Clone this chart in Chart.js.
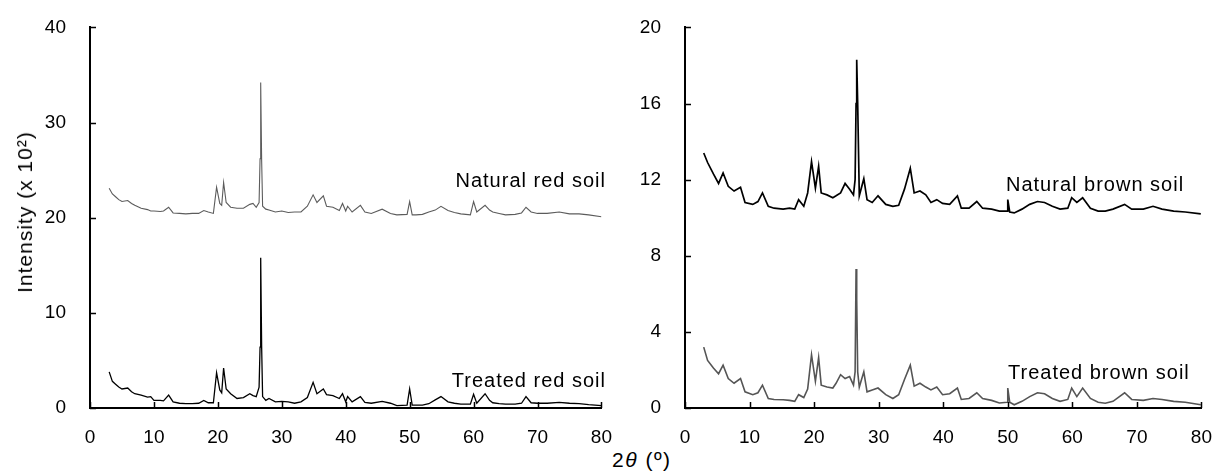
<!DOCTYPE html>
<html>
<head>
<meta charset="utf-8">
<script src="https://cdn.jsdelivr.net/npm/chart.js@4.4.1/dist/chart.umd.min.js"></script>
<style>
  html, body { margin: 0; padding: 0; background: #fff; }
  body { width: 1215px; height: 474px; position: relative; overflow: hidden;
         font-family: "Liberation Sans", Arial, sans-serif; color: #000; }
  canvas { position: absolute; }
  .lbl { position: absolute; font-size: 20px; line-height: 1; letter-spacing: 1px; white-space: nowrap; }
  #ytitle { position: absolute; left: 25px; top: 212px; font-size: 21px; white-space: nowrap;
            transform: translate(-50%, -50%) rotate(-90deg); letter-spacing: 1px; }
  #xtitle { position: absolute; left: 612px; top: 448px; font-size: 21px; white-space: nowrap; letter-spacing: 1.5px; }
</style>
</head>
<body>
<canvas id="red" width="622" height="445" style="left:0;top:0"></canvas>
<canvas id="brown" width="622" height="445" style="left:600px;top:0"></canvas>

<div class="lbl" style="right:609px;top:170px">Natural red soil</div>
<div class="lbl" style="right:609px;top:370px">Treated red soil</div>
<div class="lbl" style="left:1006px;top:174px">Natural brown soil</div>
<div class="lbl" style="left:1008px;top:362px">Treated brown soil</div>
<div id="ytitle">Intensity (x 10²)</div>
<div id="xtitle">2<i>θ</i> (º)</div>

<script>
// 2theta positions (degrees) read for the red soil panel
const redAngles = [3, 3.5, 4, 4.5, 5, 5.9, 6.5, 7, 8, 9, 9.5, 10, 11, 11.5, 12.3, 13, 14, 15, 16, 17,
  17.8, 18.5, 19.3, 19.8, 20.3, 20.6, 20.9, 21.3, 22, 23, 24, 25, 25.5, 26, 26.45, 26.6, 26.7, 26.85,
  27, 27.5, 28, 29, 30, 31, 32, 33, 34, 34.9, 35.5, 36.5, 37, 38, 39, 39.5, 40, 40.3, 41, 42.3, 43, 44,
  45.7, 47, 48, 49.6, 50, 50.4, 51, 52, 53, 54, 54.9, 56, 57, 58, 59.5, 60, 60.5, 61.8, 62.5, 63, 64,
  65, 66.5, 67.5, 68.2, 69, 70, 71.5, 73.4, 75, 76.5, 78, 80];
const naturalRed = [23.1, 22.5, 22.2, 21.9, 21.7, 21.8, 21.5, 21.3, 21.0, 20.85, 20.7, 20.7, 20.65, 20.7, 21.1, 20.5, 20.45, 20.4, 20.45, 20.45,
  20.75, 20.6, 20.45, 23.2, 21.5, 21.3, 23.7, 21.6, 21.1, 21.0, 21.0, 21.4, 21.5, 21.1, 21.6, 26.2, 34.2, 26.0,
  21.2, 20.9, 20.8, 20.6, 20.7, 20.55, 20.6, 20.6, 21.2, 22.4, 21.6, 22.3, 21.2, 21.1, 20.75, 21.5, 20.7, 21.2, 20.6, 21.3, 20.6, 20.45,
  20.9, 20.45, 20.3, 20.35, 21.7, 20.3, 20.3, 20.35, 20.6, 20.8, 21.2, 20.75, 20.55, 20.4, 20.3, 21.7, 20.6, 21.3, 20.8, 20.6, 20.45,
  20.3, 20.35, 20.5, 21.1, 20.6, 20.45, 20.45, 20.6, 20.4, 20.4, 20.3, 20.1];
const treatedRed = [3.8, 2.8, 2.5, 2.2, 2.0, 2.1, 1.7, 1.5, 1.35, 1.15, 1.2, 0.8, 0.8, 0.75, 1.35, 0.65, 0.5, 0.45, 0.45, 0.5,
  0.8, 0.55, 0.55, 3.7, 1.9, 1.6, 4.2, 2.0, 1.5, 1.0, 1.1, 1.5, 1.3, 1.2, 2.2, 6.4, 15.8, 6.4,
  1.2, 0.8, 1.0, 0.65, 0.7, 0.65, 0.5, 0.65, 1.1, 2.7, 1.5, 2.0, 1.4, 1.3, 1.0, 1.5, 0.65, 1.2, 0.65, 1.2, 0.6, 0.5,
  0.7, 0.5, 0.25, 0.3, 2.0, 0.3, 0.3, 0.3, 0.45, 0.85, 1.2, 0.65, 0.5, 0.4, 0.4, 1.45, 0.5, 1.5, 0.8, 0.55, 0.45,
  0.4, 0.4, 0.5, 1.2, 0.55, 0.5, 0.5, 0.6, 0.5, 0.45, 0.35, 0.25];

// 2theta positions (degrees) read for the brown soil panel
const brownAngles = [2.9, 3.5, 4.4, 5.2, 5.9, 6.7, 7.6, 8.6, 9.3, 10.5, 11.3, 12.0, 12.9, 13.8, 15.2, 16.2, 17.0,
  17.6, 18.4, 19.0, 19.6, 20.2, 20.7, 21.1, 22.0, 22.9, 23.4, 24.1, 24.8, 25.5, 26.1, 26.35, 26.5, 26.6, 26.75,
  27.0, 27.7, 28.2, 29.0, 29.9, 31.1, 32.2, 33.1, 34.0, 34.9, 35.5, 36.4, 37.3, 38.1, 39.0, 39.9, 41.0, 42.2,
  42.8, 44.0, 45.2, 46.1, 47.5, 48.7, 49.9, 50.0, 50.3, 51.0, 52.2, 53.4, 54.6, 55.7, 56.9, 58.1, 59.3, 59.9,
  60.7, 61.6, 62.8, 64.0, 65.1, 66.3, 68.1, 69.2, 71.0, 72.5, 73.9, 75.7, 77.5, 79.9];
const naturalBrown = [13.4, 12.9, 12.3, 11.8, 12.35, 11.65, 11.4, 11.6, 10.8, 10.7, 10.85, 11.3, 10.6, 10.5, 10.45, 10.5, 10.45,
  10.95, 10.6, 11.3, 12.95, 11.55, 12.7, 11.3, 11.2, 11.05, 11.15, 11.3, 11.8, 11.5, 11.2, 12.0, 16.0, 18.3, 16.0,
  11.15, 12.05, 10.95, 10.8, 11.15, 10.7, 10.6, 10.65, 11.5, 12.6, 11.3, 11.4, 11.2, 10.8, 10.95, 10.75, 10.7, 11.15,
  10.5, 10.5, 10.85, 10.5, 10.45, 10.35, 10.35, 10.95, 10.3, 10.25, 10.45, 10.7, 10.85, 10.8, 10.6, 10.45, 10.5, 11.05,
  10.8, 11.05, 10.5, 10.35, 10.35, 10.45, 10.7, 10.45, 10.45, 10.6, 10.45, 10.35, 10.3, 10.2];
const treatedBrown = [3.2, 2.5, 2.1, 1.8, 2.25, 1.55, 1.3, 1.55, 0.85, 0.7, 0.8, 1.2, 0.5, 0.45, 0.43, 0.4, 0.35,
  0.7, 0.55, 1.0, 2.8, 1.4, 2.65, 1.2, 1.1, 1.05, 1.3, 1.75, 1.55, 1.65, 1.2, 1.9, 7.3, 5.7, 1.9,
  1.1, 1.9, 0.85, 0.95, 1.05, 0.7, 0.5, 0.7, 1.5, 2.25, 1.15, 1.3, 1.1, 0.95, 1.1, 0.7, 0.75, 1.05,
  0.45, 0.5, 0.8, 0.5, 0.4, 0.26, 0.3, 1.05, 0.3, 0.17, 0.35, 0.6, 0.8, 0.75, 0.5, 0.35, 0.45, 1.05,
  0.6, 1.05, 0.5, 0.3, 0.25, 0.35, 0.8, 0.45, 0.4, 0.5, 0.45, 0.35, 0.3, 0.17];

const pts = (xs, ys) => xs.map((x, i) => ({ x: x, y: ys[i] }));
const FONT = { family: '"Liberation Sans", Arial, sans-serif', size: 19 };

// short tick marks pointing into the plot, like the original figure
const inwardTicks = {
  id: 'inwardTicks',
  afterDraw(chart) {
    const ctx = chart.ctx;
    const xs = chart.scales.x, ys = chart.scales.y;
    ctx.save();
    ctx.strokeStyle = '#000';
    ctx.lineWidth = 1.5;
    ctx.beginPath();
    xs.ticks.forEach(t => {
      const px = Math.round(xs.getPixelForValue(t.value)) + 0.5;
      ctx.moveTo(px, ys.bottom);
      ctx.lineTo(px, ys.bottom - 6);
    });
    ys.ticks.forEach(t => {
      const py = Math.round(ys.getPixelForValue(t.value)) + 0.5;
      ctx.moveTo(xs.left, py);
      ctx.lineTo(xs.left + 6, py);
    });
    ctx.stroke();
    ctx.restore();
  }
};

function makeChart(id, sets, yMax, yStep, yWidth, pad) {
  new Chart(document.getElementById(id), {
    type: 'line',
    data: { datasets: sets },
    options: {
      responsive: false,
      animation: false,
      devicePixelRatio: 1,
      layout: { padding: pad },
      plugins: { legend: { display: false }, tooltip: { enabled: false } },
      elements: { point: { radius: 0 }, line: { tension: 0 } },
      scales: {
        x: {
          type: 'linear', min: 0, max: 80,
          ticks: { stepSize: 10, color: '#000', font: FONT, padding: 10 },
          grid: { display: false },
          border: { color: '#000', width: 2 },
          afterFit: s => { s.height = 37; }
        },
        y: {
          min: 0, max: yMax,
          ticks: { stepSize: yStep, color: '#000', font: FONT, padding: 16 },
          grid: { display: false },
          border: { color: '#000', width: 2 },
          afterFit: s => { s.width = yWidth; }
        }
      }
    },
    plugins: [inwardTicks]
  });
}

makeChart('red', [
  { data: pts(redAngles, naturalRed), borderColor: '#5c5c5c', borderWidth: 1.1 },
  { data: pts(redAngles, treatedRed), borderColor: '#000', borderWidth: 1.3 }
], 40, 10, 90, { top: 24, right: 11, left: 0, bottom: 0 });

makeChart('brown', [
  { data: pts(brownAngles, naturalBrown), borderColor: '#000', borderWidth: 1.7 },
  { data: pts(brownAngles, treatedBrown), borderColor: '#555', borderWidth: 1.6 }
], 20, 4, 85, { top: 23, right: 2, left: 0, bottom: 0 });
</script>
</body>
</html>
